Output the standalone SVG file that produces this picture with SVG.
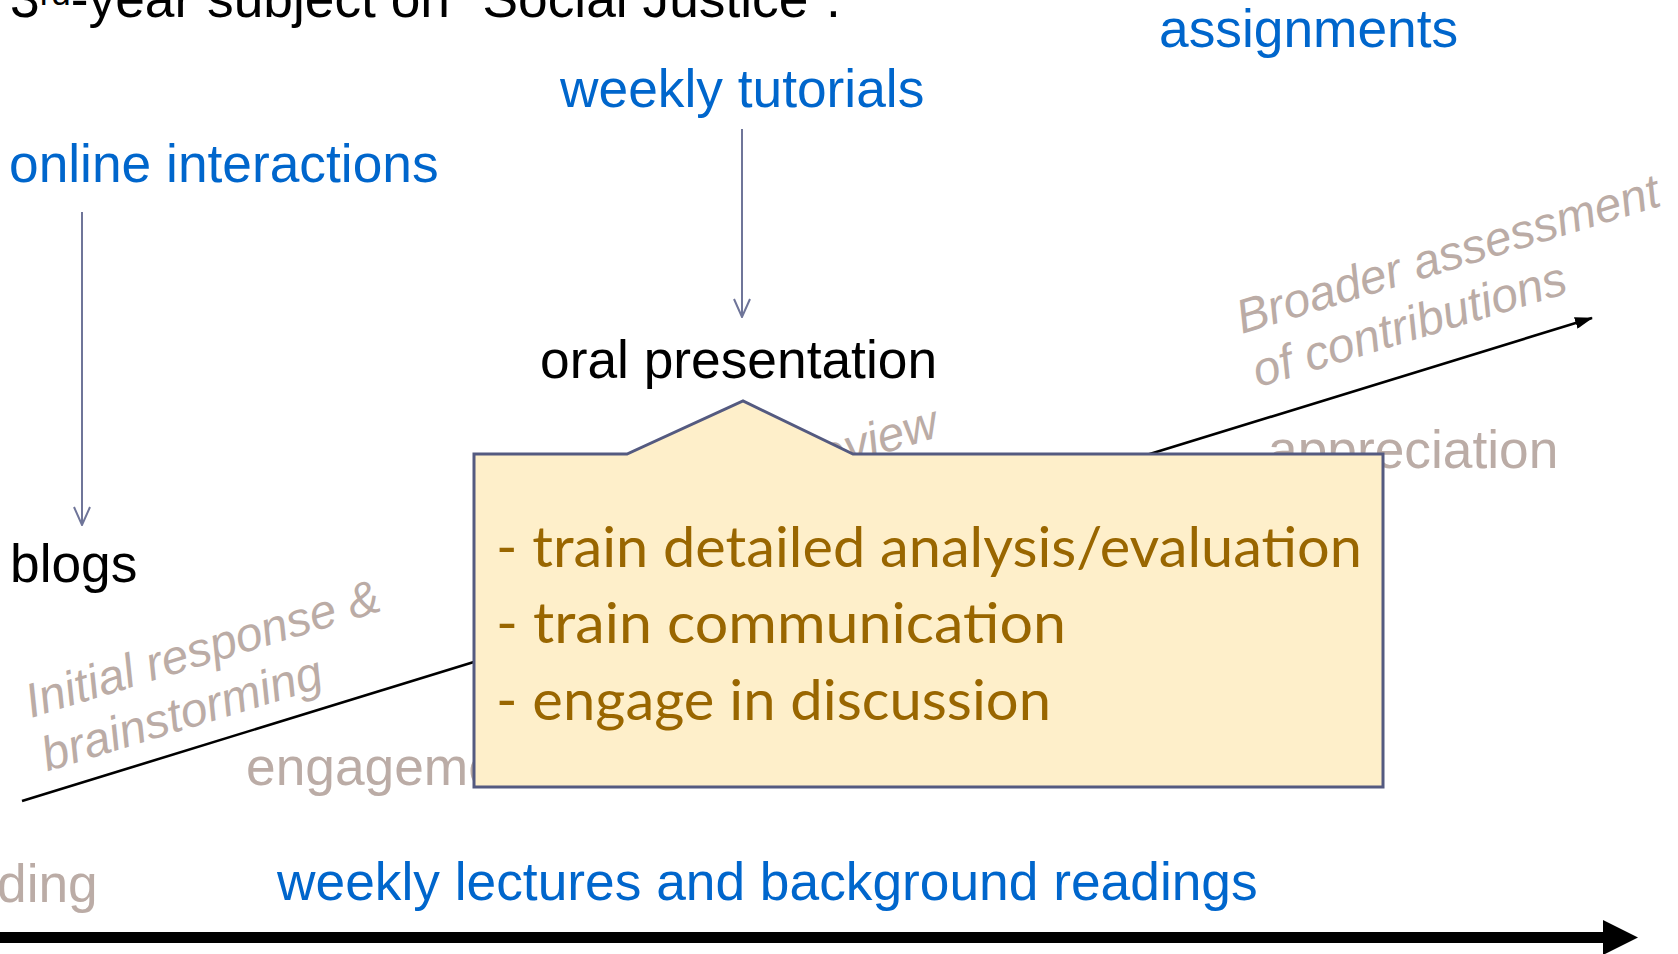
<svg xmlns="http://www.w3.org/2000/svg" width="1678" height="954" viewBox="0 0 1678 954">
<style>
.t{font-family:"Liberation Sans",Arial,sans-serif;font-size:53.3px}
.blk{fill:#000}
.blu{fill:#0066cc}
.gry{fill:#bbaca6}
.rot{font-family:"Liberation Sans",Arial,sans-serif;font-size:48px;font-style:italic;fill:#bbaca6}
.bx{font-family:"Gill Sans","Gill Sans MT",Lato,sans-serif;font-size:56px;fill:#996600}
</style>
<defs>
<marker id="vee" viewBox="0 0 20 18" refX="19" refY="9" markerWidth="20" markerHeight="18" markerUnits="userSpaceOnUse" orient="auto">
<path d="M1,1 L19,9 L1,17" fill="none" stroke="#6f7599" stroke-width="2"/>
</marker>
<marker id="tri" viewBox="0 0 18 12" refX="17" refY="6" markerWidth="18" markerHeight="12" markerUnits="userSpaceOnUse" orient="auto">
<path d="M0,0 L18,6 L0,12 Z" fill="#000"/>
</marker>
</defs>
<rect width="1678" height="954" fill="#fff"/>

<g id="title">
<text class="t blk" x="10" y="17">3<tspan font-size="35" dy="-12">rd</tspan><tspan dy="12">-year subject on “Social Justice”.</tspan></text>
</g>

<g id="labels-grey">
<text class="t gry" x="-3" y="902">ding</text>
<text class="t gry" x="246" y="785">engagement</text>
<text class="t gry" x="1268" y="468">appreciation</text>
<g transform="translate(31,718) rotate(-17)">
<text class="rot" x="0" y="0">Initial response &amp;</text>
<text class="rot" x="0" y="56">brainstorming</text>
</g>
<text class="rot" text-anchor="end" transform="translate(941,436) rotate(-17)">review</text>
<g transform="translate(1242,334) rotate(-17)">
<text class="rot" x="0" y="0">Broader assessment</text>
<text class="rot" x="0" y="56">of contributions</text>
</g>
</g>

<g id="online-interactions"><text class="t blu" x="9" y="182">online interactions</text></g>
<g id="weekly-tutorials"><text class="t blu" x="560" y="107">weekly tutorials</text></g>
<g id="assignments"><text class="t blu" x="1159" y="47">assignments</text></g>
<g id="weekly-lectures"><text class="t blu" x="277" y="900">weekly lectures and background readings</text></g>
<g id="blogs"><text class="t blk" x="10" y="582">blogs</text></g>
<g id="oral-presentation"><text class="t blk" x="540" y="378">oral presentation</text></g>

<g id="connectors">
<line x1="82" y1="212" x2="82" y2="525" stroke="#6f7599" stroke-width="2" marker-end="url(#vee)"/>
<line x1="742" y1="129" x2="742" y2="317" stroke="#6f7599" stroke-width="2" marker-end="url(#vee)"/>
<line x1="22" y1="801" x2="1592" y2="318" stroke="#000" stroke-width="2.6" marker-end="url(#tri)"/>
<line x1="0" y1="937.5" x2="1606" y2="937.5" stroke="#000" stroke-width="11"/>
<polygon points="1603,920 1638,937.5 1603,955" fill="#000"/>
</g>

<g id="callout">
<path d="M474,454 L627,454 L743,401 L853,454 L1383,454 L1383,787 L474,787 Z" fill="#feefca" stroke="#545a80" stroke-width="3" stroke-linejoin="miter"/>
<text class="bx" x="496" y="567" textLength="866" lengthAdjust="spacingAndGlyphs">- train detailed analysis/evaluation</text>
<text class="bx" x="496" y="643" textLength="570" lengthAdjust="spacingAndGlyphs">- train communication</text>
<text class="bx" x="496" y="720" textLength="555" lengthAdjust="spacingAndGlyphs">- engage in discussion</text>
</g>
</svg>
